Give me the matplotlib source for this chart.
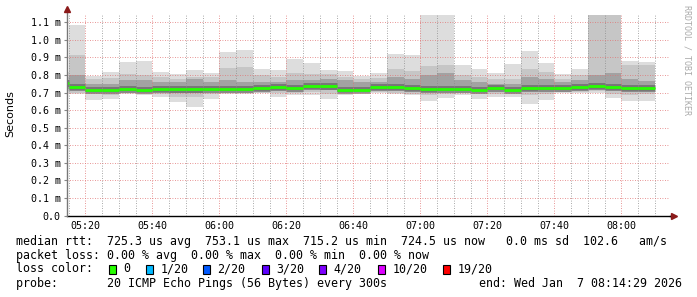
#!/usr/bin/env python3

import matplotlib
matplotlib.use("Agg")
import matplotlib.pyplot as plt
from matplotlib.patches import Rectangle
from matplotlib.ticker import MultipleLocator, FuncFormatter

# 5 minute steps, start minute of day (05:10 ... 08:05)
step_start = [310 + 5 * i for i in range(36)]

# round trip times in ms
rtt_min = [0.700, 0.692, 0.656, 0.662, 0.692, 0.685, 0.675, 0.647, 0.618, 0.666,
           0.692, 0.692, 0.700, 0.675, 0.685, 0.685, 0.666, 0.685, 0.700, 0.700,
           0.692, 0.685, 0.650, 0.670, 0.685, 0.666, 0.675, 0.675, 0.635, 0.658,
           0.700, 0.700, 0.700, 0.670, 0.650, 0.650]
rtt_p10 = [0.710, 0.700, 0.690, 0.689, 0.700, 0.700, 0.692, 0.675, 0.675, 0.692,
           0.700, 0.695, 0.700, 0.700, 0.700, 0.704, 0.692, 0.700, 0.704, 0.704,
           0.700, 0.692, 0.685, 0.692, 0.700, 0.692, 0.692, 0.692, 0.685, 0.692,
           0.704, 0.704, 0.708, 0.692, 0.685, 0.692]
rtt_p25 = [0.720, 0.712, 0.706, 0.706, 0.708, 0.706, 0.706, 0.700, 0.700, 0.708,
           0.710, 0.708, 0.710, 0.712, 0.712, 0.718, 0.715, 0.706, 0.708, 0.712,
           0.712, 0.710, 0.706, 0.710, 0.710, 0.708, 0.712, 0.708, 0.710, 0.712,
           0.712, 0.714, 0.720, 0.715, 0.710, 0.710]
rtt_median = [0.757, 0.732, 0.717, 0.717, 0.719, 0.713, 0.719, 0.723, 0.723, 0.721,
              0.723, 0.723, 0.725, 0.730, 0.727, 0.738, 0.738, 0.715, 0.715, 0.729,
              0.732, 0.725, 0.719, 0.723, 0.719, 0.715, 0.725, 0.715, 0.725, 0.727,
              0.727, 0.730, 0.736, 0.732, 0.727, 0.727]
rtt_p75 = [0.770, 0.800, 0.751, 0.751, 0.770, 0.770, 0.761, 0.761, 0.780, 0.761,
           0.770, 0.761, 0.761, 0.761, 0.770, 0.770, 0.780, 0.770, 0.761, 0.761,
           0.790, 0.780, 0.800, 0.809, 0.770, 0.761, 0.751, 0.751, 0.790, 0.780,
           0.761, 0.770, 0.799, 0.814, 0.780, 0.765]
rtt_p90 = [0.790, 0.913, 0.780, 0.784, 0.803, 0.799, 0.790, 0.780, 0.790, 0.790,
           0.841, 0.847, 0.799, 0.790, 0.809, 0.803, 0.803, 0.790, 0.776, 0.784,
           0.833, 0.822, 0.850, 0.856, 0.799, 0.790, 0.780, 0.780, 0.833, 0.818,
           0.780, 0.799, 1.300, 1.300, 0.856, 0.856]
rtt_max = [0.820, 1.085, 0.797, 0.818, 0.875, 0.881, 0.818, 0.803, 0.828, 0.809,
           0.932, 0.942, 0.833, 0.828, 0.890, 0.866, 0.828, 0.822, 0.793, 0.809,
           0.919, 0.913, 1.350, 1.350, 0.856, 0.833, 0.809, 0.860, 0.936, 0.866,
           0.803, 0.833, 1.400, 1.400, 0.879, 0.875]

loss_labels = ["0", "1/20", "2/20", "3/20", "4/20", "10/20", "19/20"]
loss_colors = ["#26ff00", "#00b8ff", "#0059ff", "#5e00ff", "#7e00ff", "#dd00ff", "#ff0000"]

W, H = 697, 297
t_start = 5 * 60 + 14 + 29 / 60.0
t_end = t_start + 180


def fx(x):
    return x / W


def fy(y):
    return 1 - y / H


mono = "DejaVu Sans Mono"

fig = plt.figure(figsize=(W / 100, H / 100), dpi=100)
ax = fig.add_axes([fx(67), fy(215.5), 603 / W, 200.5 / H])

# smoke layers, outermost first
layers = [(rtt_min, rtt_max, "#dddddd"),
          (rtt_p10, rtt_p90, "#c6c6c6"),
          (rtt_p25, rtt_p75, "#a2a2a2")]
for lo, hi, col in layers:
    ax.bar(step_start, [h - l for l, h in zip(lo, hi)], width=5, bottom=lo,
           align="edge", color=col, linewidth=0, zorder=1)

ends = [s + 5 for s in step_start]
ax.hlines(rtt_median, step_start, ends, color="#555555", linewidth=5.0, zorder=2,
          alpha=0.55)
ax.hlines(rtt_median, step_start, ends, color=loss_colors[0], linewidth=2.0, zorder=3)

ax.set_xlim(t_start, t_end)
ax.set_ylim(0, 200.5 / 175.6)

ax.xaxis.set_major_locator(MultipleLocator(20))
ax.xaxis.set_minor_locator(MultipleLocator(5))
ax.yaxis.set_major_locator(MultipleLocator(0.1))
ax.xaxis.set_major_formatter(FuncFormatter(lambda v, p: "%02d:%02d" % (int(v) // 60, int(v) % 60)))
ax.yaxis.set_major_formatter(FuncFormatter(lambda v, p: "0.0" if abs(v) < 1e-9 else "%.1f m" % v))

ax.grid(which="major", axis="both", color=(0.88, 0.45, 0.45, 0.5),
        linestyle=(0, (1, 2)), linewidth=0.6, zorder=5)
ax.grid(which="minor", axis="x", color=(0.55, 0.55, 0.55, 0.4),
        linestyle=(0, (1, 2)), linewidth=0.6, zorder=5)
ax.set_axisbelow(False)

for s in ["top", "right"]:
    ax.spines[s].set_visible(False)
ax.spines["left"].set_visible(False)
ax.spines["bottom"].set_color("black")
ax.spines["bottom"].set_linewidth(1.0)

ax.tick_params(axis="y", which="major", length=2, color="#888888", pad=2.5,
               labelsize=7.2, labelfontfamily=mono)
ax.tick_params(axis="x", which="major", length=0, pad=4,
               labelsize=7.2, labelfontfamily=mono)
ax.tick_params(axis="x", which="minor", length=0)

# axis line and arrows
ax.plot([0, 0], [0, 1.03], transform=ax.transAxes, color="#777777",
        linewidth=1.0, clip_on=False, zorder=6)
ax.plot([0], [1.03], transform=ax.transAxes, marker="^", markersize=4.5,
        color="#8b1a1a", clip_on=False, zorder=7)
ax.plot([1.0, 1.006], [0, 0], transform=ax.transAxes, color="black",
        linewidth=1.0, clip_on=False, zorder=6)
ax.plot([1.006], [0], transform=ax.transAxes, marker=">", markersize=4.5,
        color="#8b1a1a", clip_on=False, zorder=7)

fig.text(fx(10), fy(114), "Seconds", rotation=90, ha="center", va="center",
         fontsize=8, family="DejaVu Sans")
fig.text(fx(687), fy(5), "RRDTOOL / TOBI OETIKER", rotation=270, ha="center",
         va="top", fontsize=6, family=mono, color="#aaaaaa")

# legend
fs = 8.4
fig.text(fx(16), fy(241.3),
         "median rtt:  725.3 us avg  753.1 us max  715.2 us min  724.5 us now   0.0 ms sd  102.6   am/s",
         fontsize=fs, family=mono, va="center")
fig.text(fx(16), fy(255.3),
         "packet loss: 0.00 % avg  0.00 % max  0.00 % min  0.00 % now",
         fontsize=fs, family=mono, va="center")
fig.text(fx(16), fy(269), "loss color:", fontsize=fs, family=mono, va="center")
box_x = [108.7, 146, 203, 262, 319, 377.7, 442.7]
for bx, lab, col in zip(box_x, loss_labels, loss_colors):
    fig.patches.append(Rectangle((fx(bx), fy(273.5)), 7 / W, 9 / H,
                                 transform=fig.transFigure, facecolor=col,
                                 edgecolor="black", linewidth=0.8))
    fig.text(fx(bx + 14.5), fy(269), lab, fontsize=fs, family=mono, va="center")
fig.text(fx(16), fy(283.7), "probe:       20 ICMP Echo Pings (56 Bytes) every 300s",
         fontsize=fs, family=mono, va="center")
fig.text(fx(478.7), fy(283.7), "end: Wed Jan  7 08:14:29 2026",
         fontsize=fs, family=mono, va="center")

fig.savefig("out.png", dpi=100, facecolor="white")
